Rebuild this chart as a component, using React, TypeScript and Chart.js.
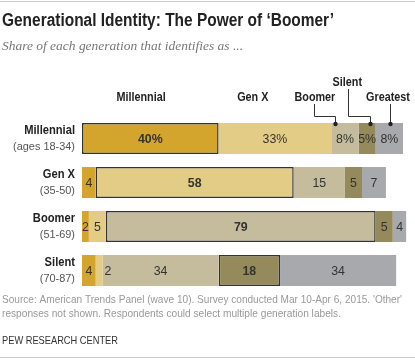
import React, { useEffect, useRef } from "react";
import { Chart, registerables } from "chart.js";

Chart.register(...registerables);

const categories = ["Millennial", "Gen X", "Boomer", "Silent"];
const ageLabels = ["(ages 18-34)", "(35-50)", "(51-69)", "(70-87)"];
const seriesNames = ["Millennial", "Gen X", "Boomer", "Silent", "Greatest"];
const millennialShare = [40, 4, 2, 4];
const genXShare = [33, 58, 5, 2];
const boomerShare = [8, 15, 79, 34];
const silentShare = [5, 5, 5, 18];
const greatestShare = [8, 7, 4, 34];

const seriesValues = [millennialShare, genXShare, boomerShare, silentShare, greatestShare];
const seriesColors = ["#d4a52d", "#e3cc86", "#c5bc9d", "#958a5b", "#a8a9ac"];

const TITLE = "Generational Identity: The Power of \u2018Boomer\u2019";
const SUBTITLE = "Share of each generation that identifies as ...";
const NOTE1 = "Source: American Trends Panel (wave 10). Survey conducted Mar 10-Apr 6, 2015. 'Other'";
const NOTE2 = "responses not shown. Respondents could select multiple generation labels.";
const CREDIT = "PEW RESEARCH CENTER";

const SANS = '"Liberation Sans", Arial, sans-serif';

function drawText(
  ctx: CanvasRenderingContext2D,
  text: string,
  x: number,
  y: number,
  align: "left" | "right" | "center",
  opts: { width?: number; sx?: number }
) {
  const w = ctx.measureText(text).width;
  const sx = opts.width ? opts.width / w : opts.sx ?? 1;
  ctx.save();
  ctx.translate(x, y);
  ctx.scale(sx, 1);
  ctx.textAlign = align;
  ctx.fillText(text, 0, 0);
  ctx.restore();
}

const decor = {
  id: "decor",
  afterDraw(chart: any) {
    const ctx = chart.ctx as CanvasRenderingContext2D;
    const xs = chart.scales.x;
    const ys = chart.scales.y;
    ctx.save();
    ctx.fillStyle = "#cccccc";
    ctx.fillRect(0, 1, 415, 1);
    ctx.fillRect(0, 357, 415, 1);

    ctx.textBaseline = "middle";
    ctx.fillStyle = "#222";
    ctx.font = `bold 17.5px ${SANS}`;
    drawText(ctx, TITLE, 2, 21.5, "left", { width: 332 });
    ctx.fillStyle = "#777";
    ctx.font = `italic 13.5px "Liberation Serif", "DejaVu Serif", serif`;
    drawText(ctx, SUBTITLE, 2, 46.5, "left", { width: 241 });

    categories.forEach((c, i) => {
      const yc = ys.getPixelForValue(i);
      ctx.fillStyle = "#222";
      ctx.font = `bold 12px ${SANS}`;
      drawText(ctx, c, 75, yc - 8, "right", { sx: 0.93 });
      ctx.fillStyle = "#555";
      ctx.font = `11.5px ${SANS}`;
      drawText(ctx, ageLabels[i], 75, yc + 8.5, "right", { sx: 0.95 });
    });

    seriesValues.forEach((vals, d) => {
      const meta = chart.getDatasetMeta(d);
      meta.data.forEach((bar: any, i: number) => {
        const p = bar.getProps(["x", "base", "y"], true);
        const v = vals[i];
        const txt = i === 0 ? `${v}%` : `${v}`;
        ctx.fillStyle = "#333";
        ctx.font = d === i ? `bold 13px ${SANS}` : `13px ${SANS}`;
        if (categories[i] === "Silent" && seriesNames[d] === "Gen X") {
          drawText(ctx, txt, Math.max(p.x, p.base) + 2, p.y + 1, "left", { sx: 0.95 });
        } else {
          drawText(ctx, txt, (p.x + p.base) / 2, p.y + 1, "center", { sx: 0.95 });
        }
      });
    });

    const topY = ys.getPixelForValue(0) - 15.5;
    ctx.fillStyle = "#222";
    ctx.font = `bold 12px ${SANS}`;
    drawText(ctx, seriesNames[0], xs.getPixelForValue(17.3), 98, "center", { sx: 0.9 });
    drawText(ctx, seriesNames[1], xs.getPixelForValue(50), 98, "center", { sx: 0.9 });
    drawText(ctx, seriesNames[2], xs.getPixelForValue(68.2), 98, "center", { sx: 0.9 });
    drawText(ctx, seriesNames[3], xs.getPixelForValue(77.7), 83, "center", { sx: 0.9 });
    drawText(ctx, seriesNames[4], xs.getPixelForValue(89.6), 98, "center", { sx: 0.9 });

    ctx.strokeStyle = "#333";
    ctx.lineWidth = 1;
    const px = (v: number) => Math.round(xs.getPixelForValue(v)) + 0.5;
    const dot = (x: number) => {
      ctx.beginPath();
      ctx.arc(x, topY + 1, 2.2, 0, Math.PI * 2);
      ctx.fillStyle = "#222";
      ctx.fill();
    };
    let a = px(67.9), b = px(74.1);
    ctx.beginPath();
    ctx.moveTo(a, 104);
    ctx.lineTo(a, 116.5);
    ctx.lineTo(b, 116.5);
    ctx.lineTo(b, topY);
    ctx.stroke();
    dot(b);
    a = px(77.9); b = px(84.3);
    ctx.beginPath();
    ctx.moveTo(a, 89);
    ctx.lineTo(a, 116.5);
    ctx.lineTo(b, 116.5);
    ctx.lineTo(b, topY);
    ctx.stroke();
    dot(b);
    a = px(90.2);
    ctx.beginPath();
    ctx.moveTo(a, 104);
    ctx.lineTo(a, topY);
    ctx.stroke();
    dot(a);

    ctx.fillStyle = "#999";
    ctx.font = `10.5px ${SANS}`;
    drawText(ctx, NOTE1, 2, 300, "left", { width: 400 });
    drawText(ctx, NOTE2, 2, 314, "left", { width: 339 });
    ctx.fillStyle = "#333";
    ctx.font = `11px ${SANS}`;
    drawText(ctx, CREDIT, 2, 341, "left", { width: 116 });
    ctx.restore();
  },
};

export default function App() {
  const ref = useRef<HTMLCanvasElement>(null);
  useEffect(() => {
    document.body.style.margin = "0";
    const chart = new Chart(ref.current!, {
      type: "bar",
      data: {
        labels: categories,
        datasets: seriesValues.map((vals, d) => ({
          label: seriesNames[d],
          data: vals,
          backgroundColor: seriesColors[d],
          borderColor: "#333",
          borderWidth: (c: any) => (c.dataIndex === d ? 1.5 : 0),
          borderSkipped: false,
          categoryPercentage: 1,
          barPercentage: 0.7,
        })),
      },
      options: {
        indexAxis: "y",
        responsive: false,
        animation: false,
        layout: { padding: { top: 116.5, bottom: 67.5, left: 82, right: 8.6 } },
        plugins: { legend: { display: false }, tooltip: { enabled: false }, title: { display: false } },
        scales: {
          x: { stacked: true, min: 0, max: 95, display: false },
          y: { stacked: true, display: false },
        },
      },
      plugins: [decor],
    } as any);
    return () => chart.destroy();
  }, []);
  return <canvas ref={ref} width={415} height={360} style={{ display: "block" }} />;
}
